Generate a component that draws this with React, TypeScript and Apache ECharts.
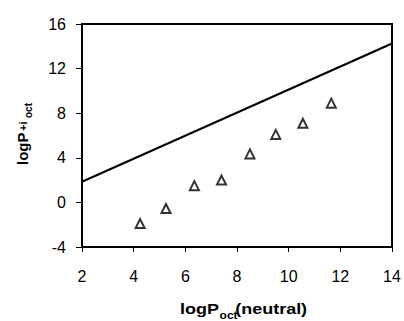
import React, { useEffect, useRef } from "react";
import * as echarts from "echarts";

const xValues = [4.25, 5.25, 6.35, 7.4, 8.5, 9.5, 10.55, 11.65];
const yValues = [-1.9, -0.55, 1.5, 2.0, 4.35, 6.1, 7.1, 8.9];
const lineX = [2, 14];
const lineY = [1.85, 14.25];

const FONT = "Liberation Sans";

function txt(text: string, x: number, y: number, size: number) {
  return {
    type: "text",
    x,
    y,
    style: {
      text,
      fontSize: size,
      fontWeight: "bold",
      fontFamily: FONT,
      fill: "#000",
      verticalAlign: "bottom",
      align: "left",
    },
  };
}

export default function App() {
  const ref = useRef<HTMLDivElement>(null);
  useEffect(() => {
    if (!ref.current) return;
    const chart = echarts.init(ref.current, null, { renderer: "svg" });
    const scatterData = xValues.map((x, i) => [x, yValues[i]]);
    const lineData = lineX.map((x, i) => [x, lineY[i]]);
    chart.setOption({
      animation: false,
      backgroundColor: "#ffffff",
      grid: {
        left: 82,
        right: 12,
        top: 24,
        bottom: 74,
        show: true,
        borderColor: "#000",
        borderWidth: 2,
        backgroundColor: "transparent",
      },
      xAxis: {
        type: "value",
        min: 2,
        max: 14,
        interval: 2,
        axisLine: { show: true, onZero: false, lineStyle: { color: "#000", width: 2 } },
        axisTick: { show: true, inside: false, length: 5, lineStyle: { color: "#000", width: 1 } },
        splitLine: { show: false },
        axisLabel: { color: "#000", fontSize: 16, fontFamily: FONT, margin: 21 },
      },
      yAxis: {
        type: "value",
        min: -4,
        max: 16,
        interval: 4,
        axisLine: { show: true, onZero: false, lineStyle: { color: "#000", width: 2 } },
        axisTick: { show: true, inside: false, length: 6, lineStyle: { color: "#000", width: 1 } },
        splitLine: { show: false },
        axisLabel: { color: "#000", fontSize: 16, fontFamily: FONT, margin: 16 },
      },
      series: [
        {
          type: "line",
          data: lineData,
          showSymbol: false,
          symbol: "none",
          lineStyle: { color: "#000", width: 2 },
          z: 2,
        },
        {
          type: "scatter",
          data: scatterData,
          symbol: "triangle",
          symbolSize: [9, 9],
          itemStyle: { color: "#fff", borderColor: "#000", borderWidth: 2 },
          z: 3,
        },
      ],
      graphic: [
        {
          type: "group",
          x: 180,
          y: 317,
          scaleX: 1.2,
          children: [
            txt("logP", 0, 0, 15),
            txt("oct", 33, 3, 10),
            txt("(neutral)", 46, 0, 15),
          ],
        },
        {
          type: "group",
          x: 30,
          y: 165,
          rotation: Math.PI / 2,
          children: [
            txt("logP", 0, 0, 15),
            txt("+i", 34, -2, 11),
            txt("oct", 47, 3, 10),
          ],
        },
      ],
    });
    return () => chart.dispose();
  }, []);
  return (
    <div
      ref={ref}
      style={{ position: "fixed", left: 0, top: 0, width: 404, height: 321, background: "#fff" }}
    />
  );
}
